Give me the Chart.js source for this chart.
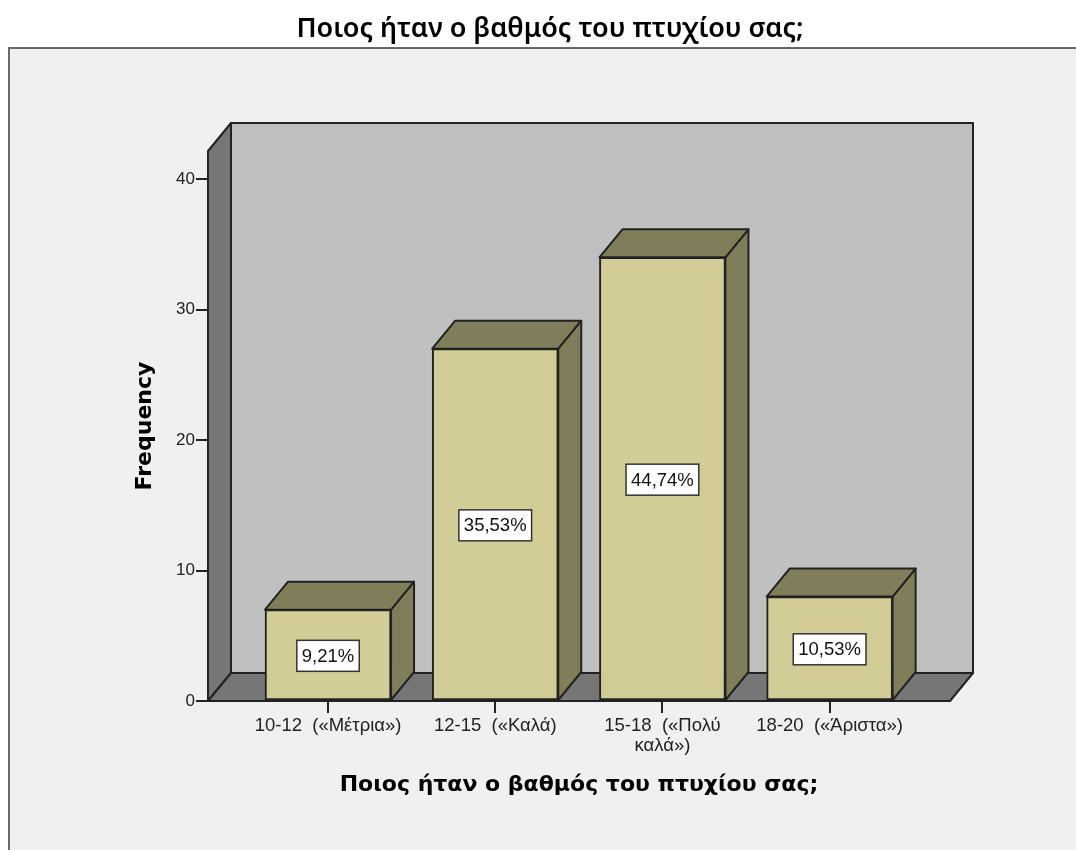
<!DOCTYPE html>
<html>
<head>
<meta charset="utf-8">
<title>Ποιος ήταν ο βαθμός του πτυχίου σας;</title>
<script src="https://cdn.jsdelivr.net/npm/chart.js@4/dist/chart.umd.min.js"></script>
<style>
  html, body { margin: 0; padding: 0; background: #ffffff; overflow: hidden; }
  #wrap { position: relative; width: 1076px; height: 850px; }
</style>
</head>
<body>
<div id="wrap"><canvas id="chart"></canvas></div>
<script>
// Chart data
const titleText = 'Ποιος ήταν ο βαθμός του πτυχίου σας;';
const yAxisTitle = 'Frequency';
const categories = [['10-12  («Μέτρια»)'], ['12-15  («Καλά)'], ['15-18  («Πολύ', 'καλά»)'], ['18-20  («Άριστα»)']];
const frequencies = [7, 27, 34, 8];
const percentLabels = ['9,21%', '35,53%', '44,74%', '10,53%'];
const yTicks = [0, 10, 20, 30, 40];

// 3D look
const DEPTH_X = 23;
const DEPTH_Y = 28;
const FONT = '"Liberation Sans", Arial, sans-serif';
const TITLE_FONT = '"Noto Sans", sans-serif';
const AXIS_TITLE_FONT = '"DejaVu Sans", Verdana, sans-serif';
const LINE = '#222222';
const WALL = '#767676';
const BACK = '#c0c0c0';
const BAR_FRONT = '#d2cd96';
const BAR_SIDE = '#807e5a';

function polygon(ctx, points, fill) {
  ctx.beginPath();
  points.forEach(([x, y], i) => (i ? ctx.lineTo(x, y) : ctx.moveTo(x, y)));
  ctx.closePath();
  ctx.fillStyle = fill;
  ctx.fill();
  ctx.stroke();
}

// Grey panel behind the whole chart
const framePlugin = {
  id: 'frame',
  beforeDraw(chart) {
    const { ctx, width, height } = chart;
    ctx.save();
    ctx.fillStyle = '#f0f0f0';
    ctx.fillRect(9, 48, width - 9, height - 48);
    ctx.strokeStyle = '#6a6a6a';
    ctx.lineWidth = 2;
    ctx.beginPath();
    ctx.moveTo(9, height);
    ctx.lineTo(9, 48);
    ctx.lineTo(width, 48);
    ctx.stroke();
    ctx.restore();
  }
};

// Side wall, back wall and floor of the box
const wallsPlugin = {
  id: 'walls',
  beforeDatasetsDraw(chart) {
    const { ctx, chartArea: { left, right, top, bottom } } = chart;
    const dx = DEPTH_X, dy = DEPTH_Y;
    ctx.save();
    ctx.strokeStyle = LINE;
    ctx.lineWidth = 2;
    ctx.lineJoin = 'round';
    polygon(ctx, [[left + dx, top - dy], [right + dx, top - dy], [right + dx, bottom - dy], [left + dx, bottom - dy]], BACK);
    polygon(ctx, [[left, top], [left + dx, top - dy], [left + dx, bottom - dy], [left, bottom]], WALL);
    polygon(ctx, [[left, bottom], [left + dx, bottom - dy], [right + dx, bottom - dy], [right, bottom]], WALL);
    ctx.restore();
  },
  // Top and side faces go under the front face
  beforeDatasetDraw(chart, args) {
    const { ctx } = chart;
    const dx = DEPTH_X, dy = DEPTH_Y;
    ctx.save();
    ctx.strokeStyle = LINE;
    ctx.lineWidth = 2;
    ctx.lineJoin = 'round';
    chart.getDatasetMeta(args.index).data.forEach((bar) => {
      const l = bar.x - bar.width / 2;
      const r = bar.x + bar.width / 2;
      polygon(ctx, [[r, bar.y], [r + dx, bar.y - dy], [r + dx, bar.base - dy], [r, bar.base]], BAR_SIDE);
      polygon(ctx, [[l, bar.y], [l + dx, bar.y - dy], [r + dx, bar.y - dy], [r, bar.y]], BAR_SIDE);
    });
    ctx.restore();
  },
  // White percent boxes in the middle of each bar
  afterDatasetsDraw(chart) {
    const { ctx } = chart;
    ctx.save();
    ctx.font = '18.5px ' + FONT;
    ctx.textAlign = 'center';
    ctx.textBaseline = 'middle';
    chart.getDatasetMeta(0).data.forEach((bar, i) => {
      const text = percentLabels[i];
      const w = ctx.measureText(text).width + 10;
      const h = 31;
      const cy = (bar.y + bar.base) / 2 + 1;
      ctx.fillStyle = '#ffffff';
      ctx.strokeStyle = '#333333';
      ctx.lineWidth = 1.5;
      ctx.fillRect(bar.x - w / 2, cy - h / 2, w, h);
      ctx.strokeRect(bar.x - w / 2, cy - h / 2, w, h);
      ctx.fillStyle = '#111111';
      ctx.fillText(text, bar.x, cy + 1);
    });
    ctx.restore();
  }
};

new Chart(document.getElementById('chart'), {
  type: 'bar',
  data: {
    datasets: [{
      data: frequencies.map((v, i) => ({ x: i, y: v })),
      backgroundColor: BAR_FRONT,
      borderColor: LINE,
      borderWidth: 2,
      borderSkipped: false,
      barThickness: 126
    }]
  },
  plugins: [framePlugin, wallsPlugin],
  options: {
    responsive: true,
    maintainAspectRatio: false,
    animation: false,
    layout: { padding: { left: 24 } },
    plugins: {
      legend: { display: false },
      tooltip: { enabled: false },
      title: {
        display: true,
        text: titleText,
        color: '#000000',
        font: { family: TITLE_FONT, size: 27, weight: '600' },
        padding: { top: 12.8, bottom: 105.8 }
      }
    },
    scales: {
      x: {
        type: 'linear',
        offset: false,
        min: -0.718,
        max: 3.72,
        afterFit(scale) { scale.height = 149; },
        afterBuildTicks(scale) { scale.ticks = categories.map((c, i) => ({ value: i })); },
        afterTickToLabelConversion(scale) {
          scale.ticks.forEach((t, i) => { t.label = categories[i]; });
        },
        grid: { offset: false, drawOnChartArea: false, tickLength: 12, color: LINE, lineWidth: 2 },
        border: { display: false },
        ticks: {
          autoSkip: false,
          maxRotation: 0,
          padding: 3,
          color: '#222222',
          font: { family: FONT, size: 18.5, lineHeight: 1.08 }
        },
        title: {
          display: true,
          text: titleText,
          color: '#000000',
          font: { family: AXIS_TITLE_FONT, size: 22, weight: 'bold' },
          padding: { top: 0, bottom: 51.8 }
        }
      },
      y: {
        min: 0,
        max: 42.15,
        afterFit(scale) { scale.width = 184; },
        afterBuildTicks(scale) { scale.ticks = yTicks.map((v) => ({ value: v })); },
        grid: { drawOnChartArea: false, tickLength: 12, color: LINE, lineWidth: 2 },
        border: { display: false },
        ticks: {
          padding: 1,
          color: '#222222',
          font: { family: FONT, size: 17 }
        },
        title: {
          display: true,
          text: yAxisTitle,
          color: '#000000',
          font: { family: AXIS_TITLE_FONT, size: 22, weight: 'bold' },
          padding: { top: 107.8, bottom: 0 }
        }
      },
      // empty axis on the right, keeps the plot clear of the right edge
      yRight: {
        position: 'right',
        afterFit(scale) { scale.width = 126; },
        grid: { display: false },
        border: { display: false },
        ticks: { display: false }
      }
    }
  }
});
</script>
</body>
</html>
